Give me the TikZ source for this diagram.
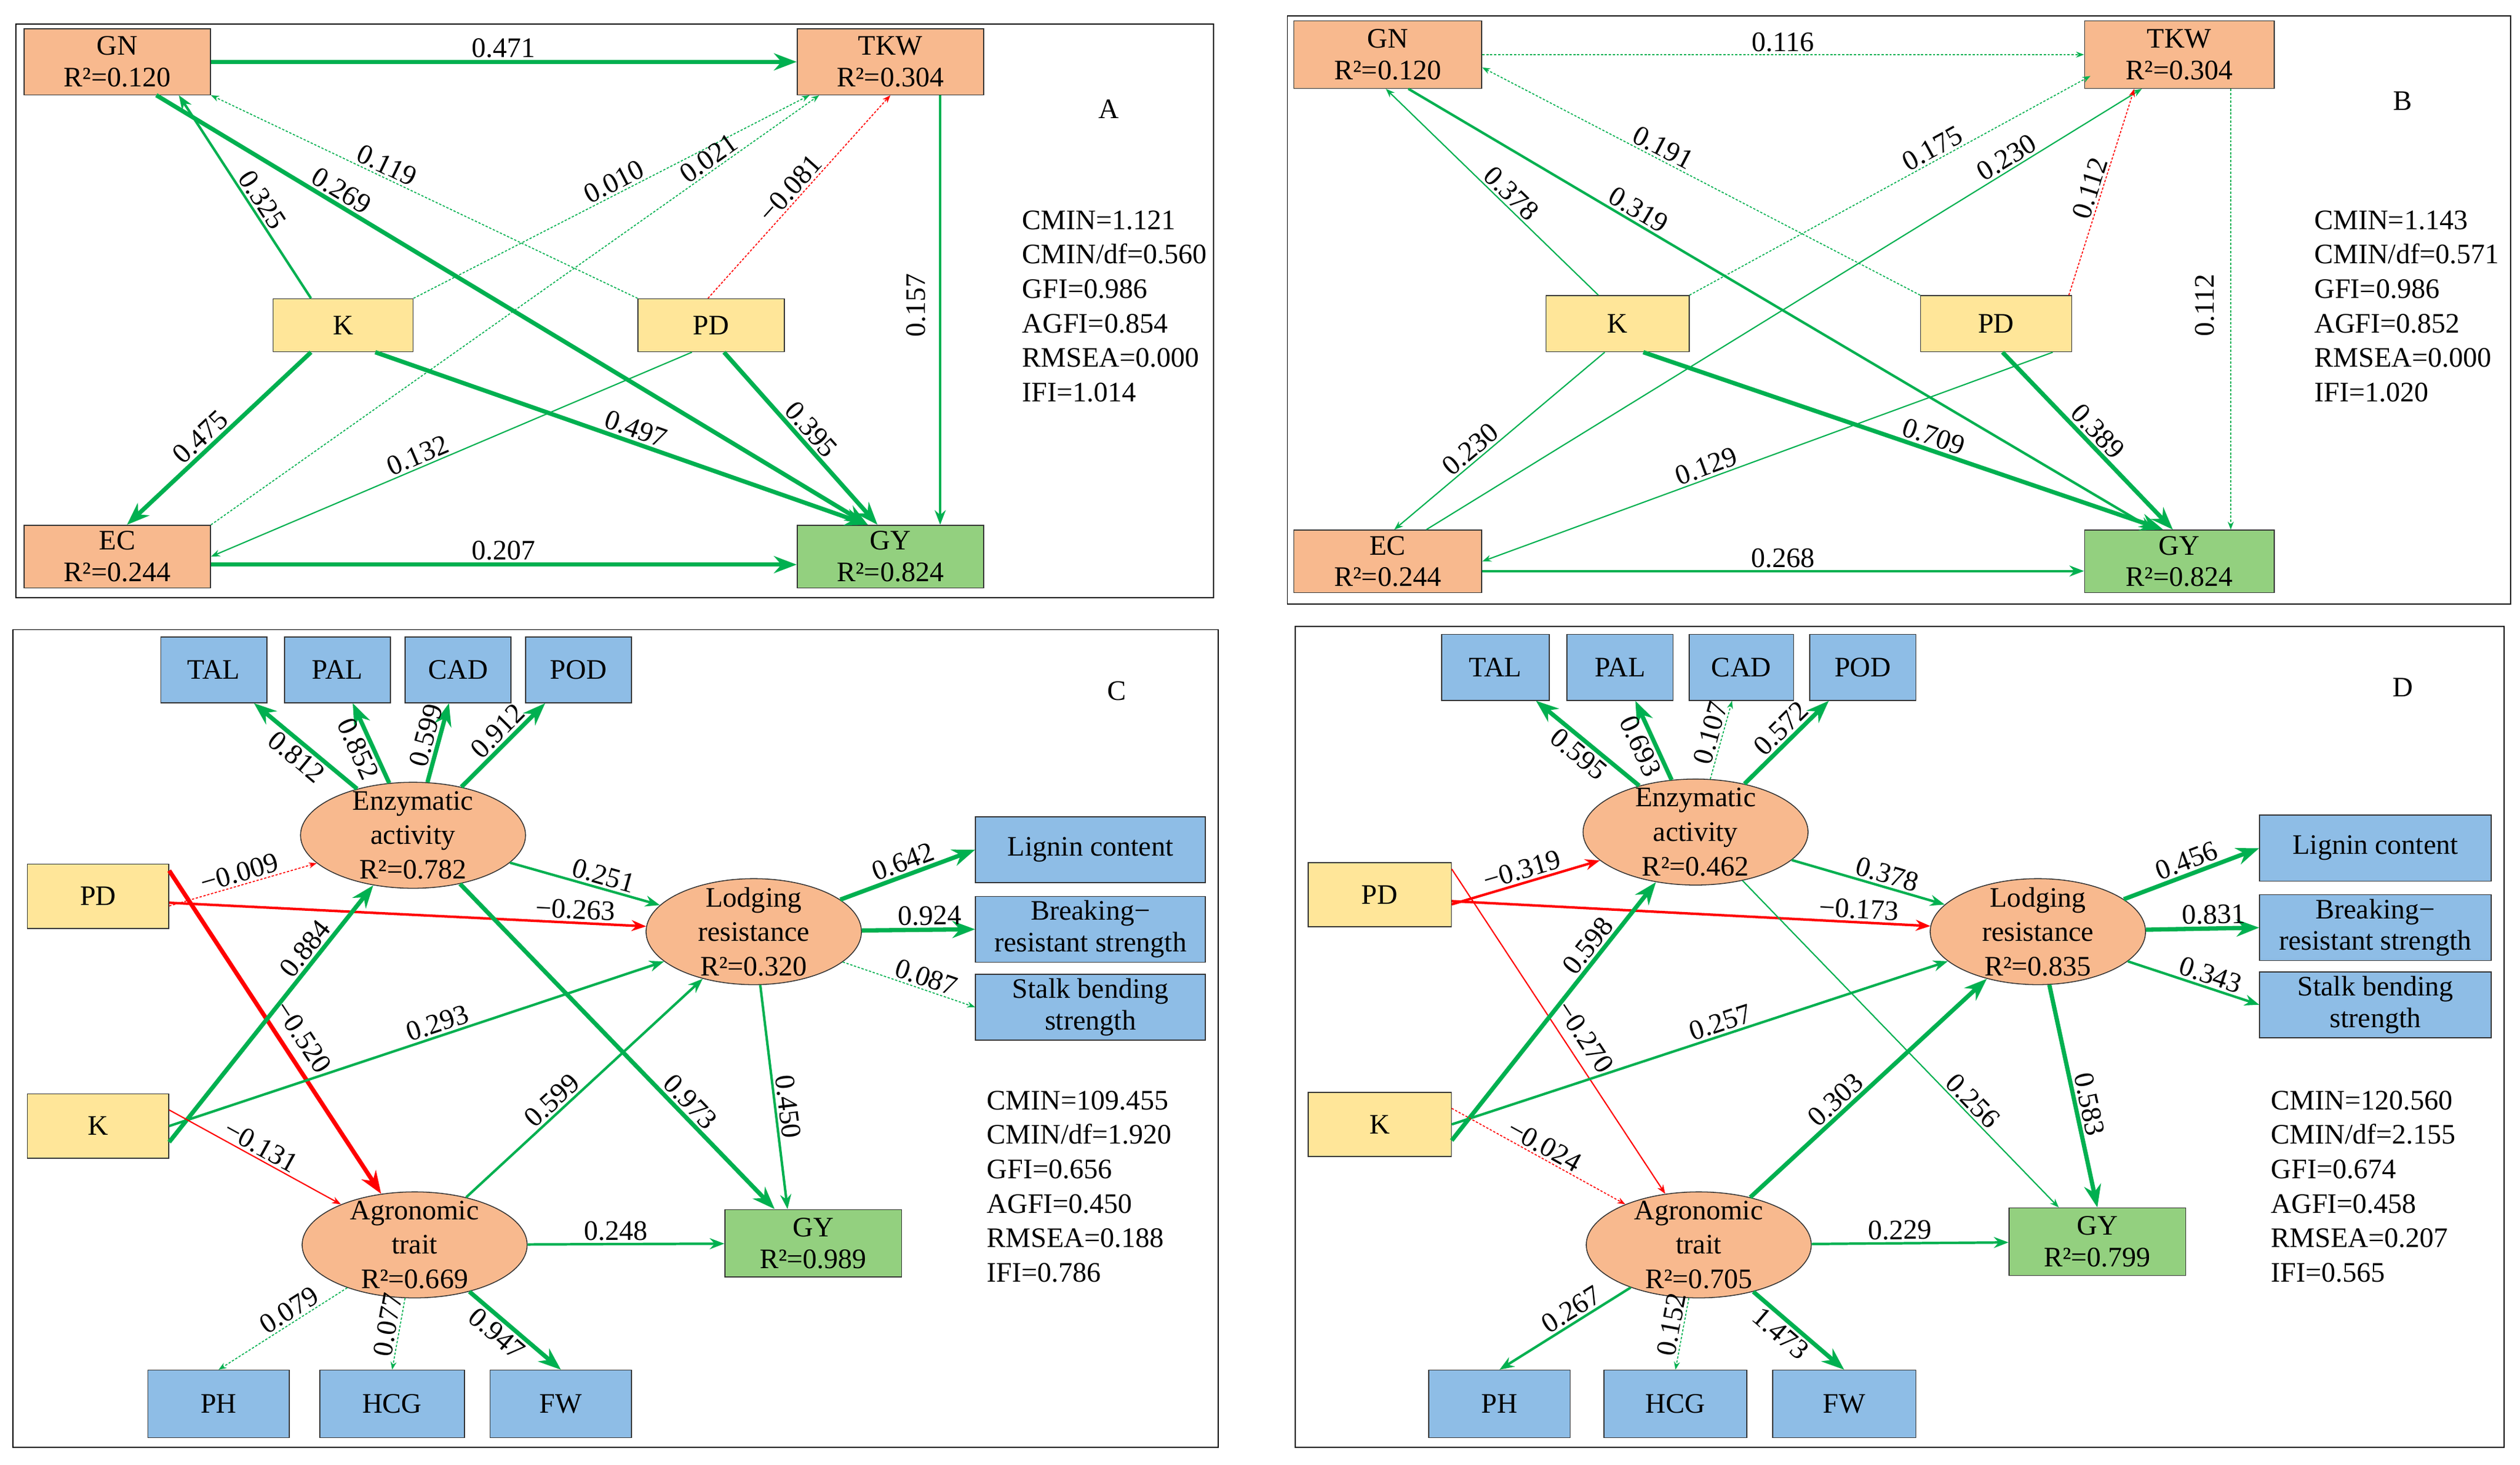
\documentclass[tikz,border=0pt]{standalone}
\usepackage{fontspec}
\setmainfont{Liberation Serif}
\usetikzlibrary{shapes.geometric,arrows.meta}
\definecolor{gl}{HTML}{00B050}
\definecolor{rl}{HTML}{FF0000}
\definecolor{orF}{HTML}{F8B98E}
\definecolor{yeF}{HTML}{FFE699}
\definecolor{grF}{HTML}{93D07F}
\definecolor{blF}{HTML}{8EBDE6}
\begin{document}
\begin{tikzpicture}[x=0.05cm,y=-0.05cm,
  font=\fontsize{25}{30.5}\selectfont,
  bx/.style={draw=black!80,line width=0.8pt,inner sep=0pt,align=center,font=\fontsize{25}{28}\selectfont},
  ob/.style={bx,fill=orF,minimum width=5.8cm,minimum height=2.05cm},
  yb/.style={bx,fill=yeF,minimum height=2cm,minimum width=4.4cm},
  gb/.style={bx,fill=grF},
  bb/.style={bx,fill=blF,minimum height=2.05cm},
  el/.style={ellipse,draw=black!80,line width=0.8pt,fill=orF,minimum width=7cm,minimum height=3.3cm,inner sep=0pt},
  g1/.style={draw=gl,line width=1.1pt,-{Stealth}},
  g2/.style={draw=gl,line width=2.2pt,-{Stealth}},
  g3/.style={draw=gl,line width=3.8pt,-{Stealth}},
  gd/.style={draw=gl,line width=0.9pt,dash pattern=on 2pt off 1.5pt,-{Stealth}},
  r1/.style={draw=rl,line width=1.1pt,-{Stealth}},
  r2/.style={draw=rl,line width=2.2pt,-{Stealth}},
  r3/.style={draw=rl,line width=3.8pt,-{Stealth}},
  rd/.style={draw=rl,line width=0.9pt,dash pattern=on 2pt off 1.5pt,-{Stealth}},
  lb/.style={sloped,inner sep=2pt},
  st/.style={align=left,anchor=north west,inner sep=0pt}]
\useasboundingbox (0,0) rectangle (1568,912);
% ---------------- Panel A
\draw[line width=1pt] (10,15) rectangle (755,372);
\node[ob] (aGN) at (73,38.5) {GN\\R²=0.120};
\node[ob] (aTKW) at (554,38.5) {TKW\\R²=0.304};
\node[yb,minimum width=4.35cm,minimum height=1.65cm] (aK) at (213.5,202.5) {K};
\node[yb,minimum width=4.55cm,minimum height=1.65cm] (aPD) at (442.5,202.5) {PD};
\node[ob,minimum height=1.95cm] (aEC) at (73,346.5) {EC\\R²=0.244};
\node[gb,minimum width=5.8cm,minimum height=1.95cm] (aGY) at (554,346.5) {GY\\R²=0.824};
\node (aLt) at (690,68) {A};
\node[st] (aSt) at (636,131) {CMIN=1.121\\CMIN/df=0.560\\GFI=0.986\\AGFI=0.854\\RMSEA=0.000\\IFI=1.014};
\draw[g3] (aGN.east) -- node[above,inner sep=2pt]{0.471} (aTKW.west);
\draw[gd] (aPD.north west) -- node[lb,above,pos=0.6]{0.119} (aGN.south east);
\draw[gd] (aK.north east) -- node[lb,above,pos=0.52]{0.010} ([xshift=0.4cm]aTKW.south west);
\draw[gd] (aEC.north east) -- node[lb,above,pos=0.83]{0.021} ([xshift=0.7cm]aTKW.south west);
\draw[rd] ([xshift=-0.1cm]aPD.north) -- node[lb,above,pos=0.5]{−0.081} (aTKW.south);
\draw[g2] ([xshift=-1cm]aK.north) -- node[lb,above,pos=0.45]{0.325} ([xshift=-1.0cm]aGN.south east);
\draw[g3] ([xshift=-1.7cm]aGN.south east) -- node[lb,above,pos=0.25]{0.269} ([xshift=-0.7cm]aGY.north);
\draw[g2] ([xshift=1.55cm]aTKW.south) -- ([xshift=1.55cm]aGY.north);
\node[rotate=90] (aL157) at (570,190) {0.157};
\draw[g3] ([xshift=-1cm]aK.south) -- node[lb,above,pos=0.55]{0.475} ([xshift=0.3cm]aEC.north);
\draw[g3] ([xshift=1cm]aK.south) -- node[lb,above,pos=0.52]{0.497} ([xshift=-0.7cm]aGY.north);
\draw[g3] ([xshift=0.4cm]aPD.south) -- node[lb,above,pos=0.5]{0.395} ([xshift=-0.4cm]aGY.north);
\draw[g1] ([xshift=-0.6cm]aPD.south) -- node[lb,above,pos=0.56]{0.132} (aEC.east);
\draw[g3] ([yshift=-0.25cm]aEC.east) -- node[above,inner sep=2pt]{0.207} ([yshift=-0.25cm]aGY.west);
% ---------------- Panel B
\draw[line width=1pt] (801,10) rectangle (1562,376);
\node[ob,minimum width=5.85cm,minimum height=2.1cm] (bGN) at (863.5,34) {GN\\R²=0.120};
\node[ob,minimum width=5.9cm,minimum height=2.1cm] (bTKW) at (1356,34) {TKW\\R²=0.304};
\node[yb,minimum width=4.45cm,minimum height=1.75cm] (bK) at (1006.5,201.5) {K};
\node[yb,minimum width=4.7cm,minimum height=1.75cm] (bPD) at (1242,201.5) {PD};
\node[ob,minimum width=5.85cm,minimum height=1.95cm] (bEC) at (863.5,349.5) {EC\\R²=0.244};
\node[gb,minimum width=5.9cm,minimum height=1.95cm] (bGY) at (1356,349.5) {GY\\R²=0.824};
\node (bLt) at (1495,63) {B};
\node[st] (bSt) at (1440,131) {CMIN=1.143\\CMIN/df=0.571\\GFI=0.986\\AGFI=0.852\\RMSEA=0.000\\IFI=1.020};
\draw[gd] (bGN.east) -- node[above,inner sep=2pt]{0.116} (bTKW.west);
\draw[gd] (bPD.north west) -- node[lb,above,pos=0.6]{0.191} ([yshift=-0.4cm]bGN.east);
\draw[gd] (bK.north east) -- node[lb,above,pos=0.62]{0.175} ([xshift=0.2cm,yshift=0.4cm]bTKW.south west);
\draw[g1] ([xshift=1.2cm]bEC.north) -- node[lb,above,pos=0.82]{0.230} ([xshift=1.8cm]bTKW.south west);
\draw[rd] ([xshift=-0.1cm]bPD.north east) -- node[lb,above,pos=0.5]{0.112} ([xshift=-1.4cm]bTKW.south);
\draw[g1] ([xshift=-0.6cm]bK.north) -- node[lb,above,pos=0.45]{0.378} ([xshift=-3.0cm]bGN.south east);
\draw[g2] ([xshift=-2.3cm]bGN.south east) -- node[lb,above,pos=0.3]{0.319} ([xshift=-0.8cm]bGY.north);
\draw[gd] ([xshift=1.6cm]bTKW.south) -- ([xshift=1.6cm]bGY.north);
\node[rotate=90] (bL112) at (1372,190) {0.112};
\draw[g1] ([xshift=-0.4cm]bK.south) -- node[lb,above,pos=0.6]{0.230} ([xshift=0.2cm]bEC.north);
\draw[g3] ([xshift=0.8cm]bK.south) -- node[lb,above,pos=0.55]{0.709} ([xshift=-0.5cm]bGY.north);
\draw[g3] ([xshift=0.2cm]bPD.south) -- node[lb,above,pos=0.5]{0.389} ([xshift=-0.2cm]bGY.north);
\draw[g1] ([xshift=-0.6cm]bPD.south east) -- node[lb,above,pos=0.6]{0.129} (bEC.east);
\draw[g2] ([yshift=-0.3cm]bEC.east) -- node[above,inner sep=2pt]{0.268} ([yshift=-0.3cm]bGY.west);
% ---------------- Panel C
\draw[line width=1pt] (8,392) rectangle (758,901);
\node[bb,minimum width=3.3cm] (cTAL) at (133,417) {TAL};
\node[bb,minimum width=3.3cm] (cPAL) at (210,417) {PAL};
\node[bb,minimum width=3.3cm] (cCAD) at (285,417) {CAD};
\node[bb,minimum width=3.3cm] (cPOD) at (360,417) {POD};
\node[bb,minimum width=7.15cm] (cLig) at (678.5,529) {Lignin content};
\node[bb,minimum width=7.15cm] (cBrk) at (678.5,578.5) {Breaking−\\resistant strength};
\node[bb,minimum width=7.15cm] (cStk) at (678.5,627) {Stalk bending\\strength};
\node[bb,minimum width=4.4cm,minimum height=2.1cm] (cPH) at (136,874) {PH};
\node[bb,minimum width=4.5cm,minimum height=2.1cm] (cHCG) at (244,874) {HCG};
\node[bb,minimum width=4.4cm,minimum height=2.1cm] (cFW) at (349,874) {FW};
\node[yb] (cPD) at (61,558) {PD};
\node[yb] (cK) at (61,701) {K};
\node[el] (cE) at (257,520) {};
\node[align=center] (cEt) at (cE) {Enzymatic\\activity\\R²=0.782};
\node[el,minimum width=6.7cm] (cL) at (469,580) {};
\node[align=center] (cLt) at (cL) {Lodging\\resistance\\R²=0.320};
\node[el] (cA) at (258,775) {};
\node[align=center] (cAt) at (cA) {Agronomic\\trait\\R²=0.669};
\node[gb,minimum width=5.5cm,minimum height=2.1cm] (cGY) at (506,774) {GY\\R²=0.989};
\node (cLt2) at (695,430) {C};
\node[st] (cSt) at (614,679) {CMIN=109.455\\CMIN/df=1.920\\GFI=0.656\\AGFI=0.450\\RMSEA=0.188\\IFI=0.786};
\draw[g3] (cE) -- node[lb,below,pos=0.5]{0.812} (cTAL);
\draw[g3] (cE) -- node[lb,below,pos=0.5]{0.852} (cPAL);
\draw[g3] (cE) -- node[lb,above,pos=0.55]{0.599} (cCAD);
\draw[g3] (cE) -- node[lb,above,pos=0.55]{0.912} (cPOD);
\draw[rd] ([yshift=-0.3cm]cPD.east) -- node[lb,above,pos=0.5]{−0.009} (cE);
\draw[r2] ([yshift=-0.2cm]cPD.east) -- node[lb,above,pos=0.85]{−0.263} (cL);
\draw[r3] ([yshift=0.8cm]cPD.east) -- node[lb,above=6pt,pos=0.55]{−0.520} (cA);
\draw[g3] ([yshift=-0.5cm]cK.east) -- node[lb,above,pos=0.72]{0.884} (cE);
\draw[g2] (cK.east) -- node[lb,above,pos=0.55]{0.293} (cL);
\draw[r1] ([yshift=0.5cm]cK.east) -- node[lb,above,pos=0.5]{−0.131} (cA);
\draw[g2] (cE) -- node[lb,above,pos=0.6]{0.251} (cL);
\draw[g3] (cE) -- node[lb,above,pos=0.7]{0.973} ([xshift=-1.2cm]cGY.north);
\draw[g3] (cL) -- node[lb,above,pos=0.5]{0.642} (cLig.west);
\draw[g3] (cL) -- node[lb,above,pos=0.6]{0.924} (cBrk.west);
\draw[gd] (cL) -- node[lb,above,pos=0.6]{0.087} (cStk.west);
\draw[g2] (cL) -- node[lb,above,pos=0.55]{0.450} ([xshift=-0.8cm]cGY.north);
\draw[g2] (cA) -- node[lb,above,pos=0.4]{0.599} (cL);
\draw[g2] (cA) -- node[lb,above,pos=0.45]{0.248} (cGY);
\draw[gd] (cA) -- node[lb,above,pos=0.4]{0.079} (cPH.north);
\draw[gd] (cA) -- node[lb,above,pos=0.4]{0.077} (cHCG.north);
\draw[g3] (cA) -- node[lb,below,pos=0.4]{0.947} (cFW.north);
% ---------------- Panel D
\draw[line width=1pt] (806,390) rectangle (1558,901);
\node[bb,minimum width=3.35cm] (dTAL) at (930.5,415.5) {TAL};
\node[bb,minimum width=3.3cm] (dPAL) at (1008,415.5) {PAL};
\node[bb,minimum width=3.25cm] (dCAD) at (1083.5,415.5) {CAD};
\node[bb,minimum width=3.3cm] (dPOD) at (1159,415.5) {POD};
\node[bb,minimum width=7.2cm] (dLig) at (1478,528) {Lignin content};
\node[bb,minimum width=7.2cm] (dBrk) at (1478,577.5) {Breaking−\\resistant strength};
\node[bb,minimum width=7.2cm] (dStk) at (1478,625.5) {Stalk bending\\strength};
\node[bb,minimum width=4.4cm,minimum height=2.1cm] (dPH) at (933,874) {PH};
\node[bb,minimum width=4.45cm,minimum height=2.1cm] (dHCG) at (1042.5,874) {HCG};
\node[bb,minimum width=4.45cm,minimum height=2.1cm] (dFW) at (1147.5,874) {FW};
\node[yb,minimum width=4.45cm] (dPD) at (858.5,557) {PD};
\node[yb,minimum width=4.45cm] (dK) at (858.5,700) {K};
\node[el] (dE) at (1055,518) {};
\node[align=center] (dEt) at (dE) {Enzymatic\\activity\\R²=0.462};
\node[el,minimum width=6.7cm] (dL) at (1268,580) {};
\node[align=center] (dLt) at (dL) {Lodging\\resistance\\R²=0.835};
\node[el] (dA) at (1057,775) {};
\node[align=center] (dAt) at (dA) {Agronomic\\trait\\R²=0.705};
\node[gb,minimum width=5.5cm,minimum height=2.1cm] (dGY) at (1305,773) {GY\\R²=0.799};
\node (dLt2) at (1495,428) {D};
\node[st] (dSt) at (1413,679) {CMIN=120.560\\CMIN/df=2.155\\GFI=0.674\\AGFI=0.458\\RMSEA=0.207\\IFI=0.565};
\draw[g3] (dE) -- node[lb,below,pos=0.5]{0.595} (dTAL);
\draw[g3] (dE) -- node[lb,below,pos=0.5]{0.693} (dPAL);
\draw[gd] (dE) -- node[lb,above,pos=0.55]{0.107} (dCAD);
\draw[g3] (dE) -- node[lb,above,pos=0.55]{0.572} (dPOD);
\draw[r2] ([yshift=-0.3cm]dPD.east) -- node[lb,above,pos=0.5]{−0.319} (dE);
\draw[r2] ([yshift=-0.2cm]dPD.east) -- node[lb,above,pos=0.85]{−0.173} (dL);
\draw[r1] ([yshift=0.8cm]dPD.east) -- node[lb,above=6pt,pos=0.55]{−0.270} (dA);
\draw[g3] ([yshift=-0.5cm]dK.east) -- node[lb,above,pos=0.72]{0.598} (dE);
\draw[g2] (dK.east) -- node[lb,above,pos=0.55]{0.257} (dL);
\draw[rd] ([yshift=0.5cm]dK.east) -- node[lb,above,pos=0.5]{−0.024} (dA);
\draw[g2] (dE) -- node[lb,above,pos=0.6]{0.378} (dL);
\draw[g1] (dE) -- node[lb,above,pos=0.7]{0.256} ([xshift=-1.2cm]dGY.north);
\draw[g3] (dL) -- node[lb,above,pos=0.5]{0.456} (dLig.west);
\draw[g3] (dL) -- node[lb,above,pos=0.6]{0.831} (dBrk.west);
\draw[g2] (dL) -- node[lb,above,pos=0.6]{0.343} (dStk.west);
\draw[g3] (dL) -- node[lb,above,pos=0.55]{0.583} (dGY.north);
\draw[g3] (dA) -- node[lb,above,pos=0.4]{0.303} (dL);
\draw[g2] (dA) -- node[lb,above,pos=0.45]{0.229} (dGY);
\draw[g2] (dA) -- node[lb,above,pos=0.4]{0.267} (dPH.north);
\draw[gd] (dA) -- node[lb,above,pos=0.4]{0.152} (dHCG.north);
\draw[g3] (dA) -- node[lb,below,pos=0.4]{1.473} (dFW.north);
\end{tikzpicture}
\end{document}
